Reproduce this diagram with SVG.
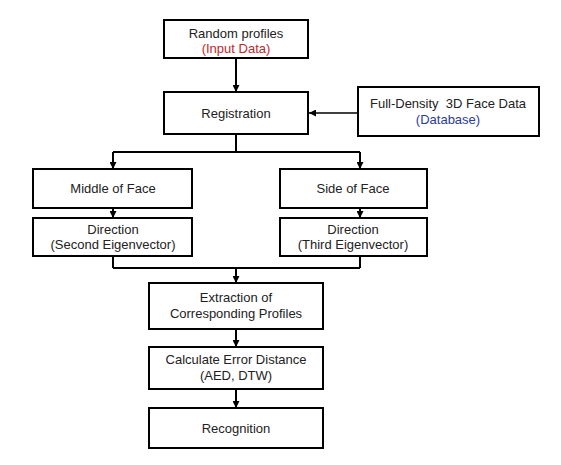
<svg xmlns="http://www.w3.org/2000/svg" width="561" height="465" viewBox="0 0 561 465">
<defs>
<marker id="ah" viewBox="0 0 10 10" refX="10" refY="5" markerWidth="7" markerHeight="7" markerUnits="userSpaceOnUse" orient="auto">
<path d="M0,0 L10,5 L0,10 z" fill="#000"/>
</marker>
<style>
.box{fill:#fff;stroke:#000;stroke-width:2}
.t{font-family:"Liberation Sans",Arial,sans-serif;font-size:13px;fill:#222;text-anchor:middle}
.red{fill:#c0282d}
.blue{fill:#2a3c9c}
.c{fill:none;stroke:#000;stroke-width:2}
.ca{fill:none;stroke:#000;stroke-width:2;marker-end:url(#ah)}
.thin{fill:none;stroke:#000;stroke-width:1.3;marker-end:url(#ah)}
</style>
</defs>
<rect width="561" height="465" fill="#fff"/>
<g id="connectors">
<path class="ca" d="M236,58 V92"/>
<path class="thin" d="M358,113 H309"/>
<path class="c" d="M236,134 V152"/>
<path class="c" d="M113,152 H360"/>
<path class="ca" d="M113,152 V169"/>
<path class="ca" d="M360,152 V169"/>
<path class="ca" d="M113,208 V218"/>
<path class="ca" d="M360,208 V218"/>
<path class="c" d="M113,256 V268"/>
<path class="c" d="M360,256 V268"/>
<path class="c" d="M113,268 H360"/>
<path class="ca" d="M236,268 V283"/>
<path class="ca" d="M236,329 V347"/>
<path class="ca" d="M236,389 V408"/>
</g>
<g id="random">
<rect class="box" x="164" y="20" width="144" height="38"/>
<text class="t" x="236" y="38">Random profiles</text>
<text class="t red" x="236" y="53">(Input Data)</text>
</g>
<g id="registration">
<rect class="box" x="164" y="92" width="144" height="42"/>
<text class="t" x="236" y="118">Registration</text>
</g>
<g id="database">
<rect class="box" x="358" y="87" width="181" height="49"/>
<text class="t" x="448" y="108">Full-Density&#160; 3D Face Data</text>
<text class="t blue" x="448" y="124">(Database)</text>
</g>
<g id="middle">
<rect class="box" x="33" y="169" width="159" height="39"/>
<text class="t" x="113" y="193">Middle of Face</text>
</g>
<g id="side">
<rect class="box" x="280" y="169" width="147" height="39"/>
<text class="t" x="353" y="193">Side of Face</text>
</g>
<g id="dir2">
<rect class="box" x="33" y="218" width="159" height="38"/>
<text class="t" x="113" y="234">Direction</text>
<text class="t" x="113" y="249">(Second Eigenvector)</text>
</g>
<g id="dir3">
<rect class="box" x="280" y="218" width="147" height="38"/>
<text class="t" x="353" y="234">Direction</text>
<text class="t" x="353" y="249">(Third Eigenvector)</text>
</g>
<g id="extraction">
<rect class="box" x="149" y="283" width="174" height="46"/>
<text class="t" x="236" y="302">Extraction of</text>
<text class="t" x="236" y="318">Corresponding Profiles</text>
</g>
<g id="calc">
<rect class="box" x="149" y="347" width="174" height="42"/>
<text class="t" x="236" y="364">Calculate Error Distance</text>
<text class="t" x="236" y="380">(AED, DTW)</text>
</g>
<g id="recognition">
<rect class="box" x="149" y="408" width="174" height="40"/>
<text class="t" x="236" y="433">Recognition</text>
</g>
</svg>
